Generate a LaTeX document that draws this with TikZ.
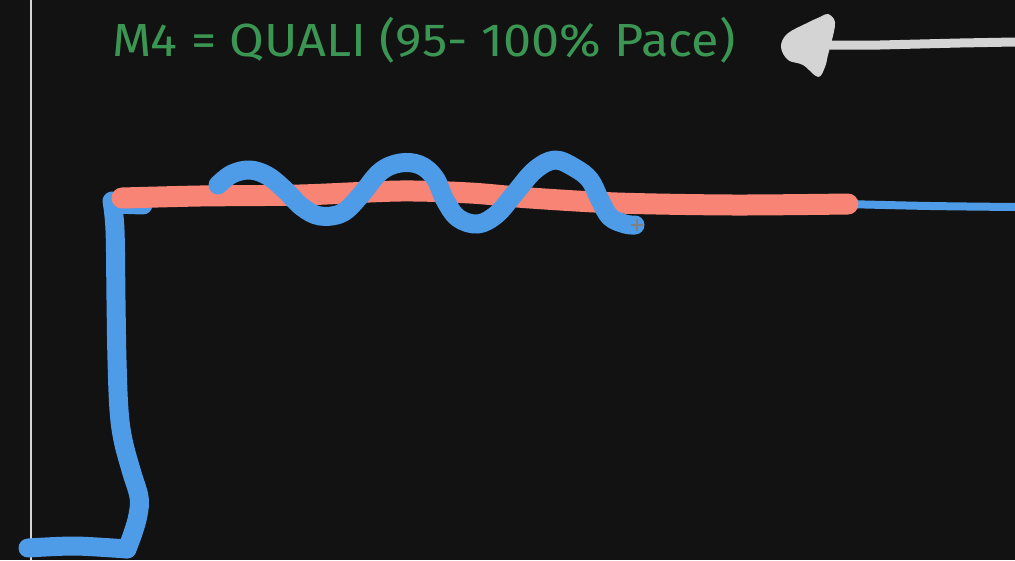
\documentclass[tikz,border=0pt]{standalone}
\usepackage{fontspec}
\setmainfont{Fira Sans}
\usepackage{graphicx}
\definecolor{bg}{RGB}{18,18,18}
\definecolor{penblue}{RGB}{78,155,232}
\definecolor{pensalmon}{RGB}{248,132,118}
\definecolor{pengreen}{RGB}{58,150,82}
\definecolor{pengrey}{RGB}{212,212,212}
\tikzset{
  bluestroke/.style={draw=penblue,line width=19pt,line cap=round,line join=round},
  redstroke/.style={draw=pensalmon,line width=21pt,line cap=round,line join=round},
  greystroke/.style={draw=pengrey,line cap=round,line join=round},
}
\begin{document}
\begin{tikzpicture}[x=1pt,y=-1pt]
\fill[bg] (0,0) rectangle (1015,560);
\useasboundingbox (0,0) rectangle (1015,560);
% left thin vertical line
\draw[pengrey,line width=2.5pt] (31,0) -- (31,560);
% title
\node[anchor=north west,inner sep=0pt,text=pengreen] (title) at (112,17)
  {\resizebox*{623pt}{46pt}{M4 = QUALI (95- 100\% Pace)}};
% arrow (grey)
\draw[greystroke,line width=9pt] (1015,42) -- (960,43) -- (880,45) -- (830,45);
\fill[pengrey] plot[smooth cycle,tension=0.6] coordinates
  {(828,14)(835,22)(832,40)(828,55)(825,67)(818,77)(803,65)(788,60)(781,47)(787,34)(807,23)(820,17)};
% blue vertical/bottom stroke
\draw[bluestroke] plot[smooth,tension=0.5] coordinates {(28,548)(75,546)(127,549)};
\draw[bluestroke] plot[smooth,tension=0.6] coordinates
  {(127,549)(133,533)(138,515)(139,497)(131,470)(123,440)(119,410)(117,360)(116,300)(115,230)(112,201)};
\draw[bluestroke] (114,204) -- (143,205);
% thin blue line to the right
\draw[penblue,line width=8pt,line cap=round] plot[smooth] coordinates {(845,204)(930,206)(1015,207)};
% salmon line
\draw[redstroke] plot[smooth,tension=0.5] coordinates
  {(122,198)(200,196)(300,195)(400,191)(470,193)(530,198)(617,203)(733,205)(848,204)};
% blue wave
\draw[bluestroke] plot[smooth,tension=0.6] coordinates
  {(218,185)(232,174)(250,170)(268,176)(285,190)(302,207)(320,216)(342,213)(360,196)(380,172)(400,163)(420,165)(435,178)(445,200)(458,218)(478,224)(497,214)(515,193)(535,170)(555,160)(575,168)(590,180)(600,200)(610,217)(625,224)(635,225)};
% small cursor cross
\draw[gray,line width=1.2pt] (631,225) -- (643,225) (637,219) -- (637,231);
\end{tikzpicture}
\end{document}
